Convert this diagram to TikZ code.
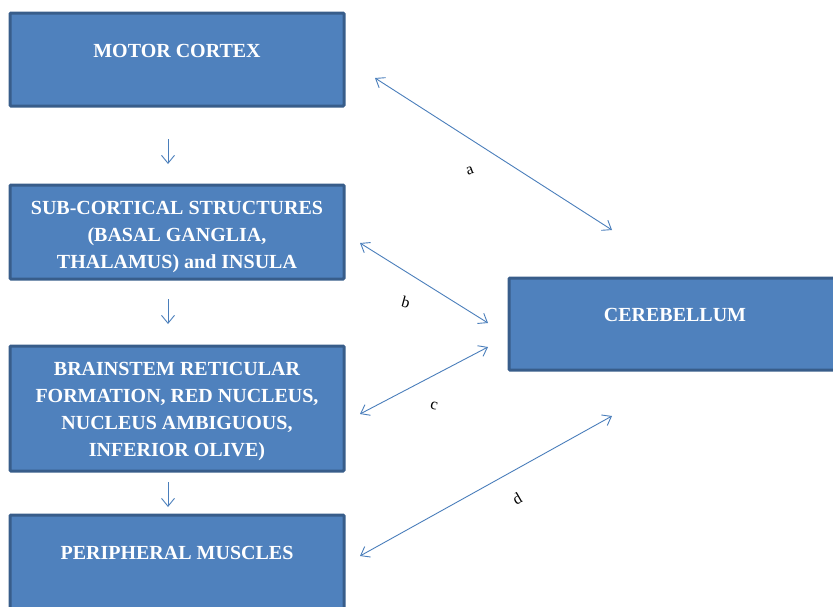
\documentclass[tikz,border=0pt]{standalone}
\usepackage{fontspec}
\setmainfont{Liberation Serif}
\usetikzlibrary{arrows.meta}
\definecolor{boxfill}{HTML}{4F81BD}
\definecolor{boxline}{HTML}{385D8A}
\definecolor{arrowc}{HTML}{4A7EBB}
\begin{document}
\begin{tikzpicture}[x=1pt,y=-1pt,
  blockbox/.style={draw=boxline,line width=3pt,fill=boxfill,rounded corners=1pt},
  blocktext/.style={text=white,font=\bfseries\fontsize{20}{27}\selectfont,align=center,inner sep=0pt},
  conn/.style={draw=arrowc,line width=0.9pt,{Straight Barb[length=8pt,width=12pt]}-{Straight Barb[length=8pt,width=12pt]}},
  downarr/.style={draw=arrowc,line width=0.9pt,-{Straight Barb[length=8pt,width=13pt]}},
  lab/.style={font=\fontsize{16}{16}\selectfont,inner sep=0pt}]
\useasboundingbox (0,0) rectangle (833,606);
% boxes
\draw[blockbox] (10,13) rectangle (344,106);
\node[blocktext] (motor) at (177,51) {MOTOR CORTEX};
\draw[blockbox] (10,185) rectangle (344,279);
\node[blocktext] (sub) at (177,237) {SUB-CORTICAL STRUCTURES\\(BASAL GANGLIA,\\THALAMUS) and INSULA};
\draw[blockbox] (10,346) rectangle (344,471);
\node[blocktext] (brain) at (177,411) {BRAINSTEM RETICULAR\\FORMATION, RED NUCLEUS,\\NUCLEUS AMBIGUOUS,\\INFERIOR OLIVE)};
\draw[blockbox] (10,515) rectangle (344,620);
\node[blocktext] (peri) at (177,553) {PERIPHERAL MUSCLES};
\draw[blockbox] (509,278) rectangle (845,370);
\node[blocktext] (cere) at (675,315) {CEREBELLUM};
% vertical arrows
\coordinate (v1a) at (168,139); \coordinate (v1b) at (168,164);
\coordinate (v2a) at (168,299); \coordinate (v2b) at (168,324);
\coordinate (v3a) at (168,482); \coordinate (v3b) at (168,507);
\draw[downarr] (v1a) -- (v1b);
\draw[downarr] (v2a) -- (v2b);
\draw[downarr] (v3a) -- (v3b);
% diagonal arrows
\coordinate (a1) at (375,78); \coordinate (a2) at (612,230);
\coordinate (b1) at (360,243); \coordinate (b2) at (488,323);
\coordinate (c1) at (360,414); \coordinate (c2) at (488,347);
\coordinate (d1) at (360,556); \coordinate (d2) at (612,416);
\draw[conn] (a1) -- (a2);
\draw[conn] (b1) -- (b2);
\draw[conn] (c1) -- (c2);
\draw[conn] (d1) -- (d2);
\node[lab,rotate=20] (la) at (470,171) {a};
\node[lab,rotate=-15] (lb) at (406,302) {b};
\node[lab,rotate=-15] (lc) at (434,406) {c};
\node[lab,rotate=30] (ld) at (517,499) {d};
\end{tikzpicture}
\end{document}
